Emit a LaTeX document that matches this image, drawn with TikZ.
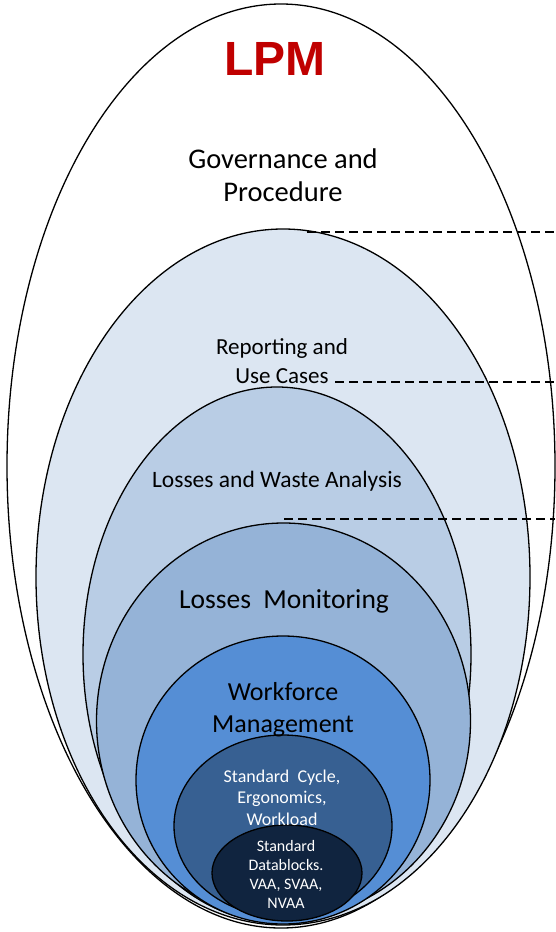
\documentclass[tikz,border=0pt]{standalone}
\usepackage{fontspec}
\setmainfont{Carlito}
\newfontfamily\lpmfont{Liberation Sans}
\usetikzlibrary{shapes.geometric}
\definecolor{lvA}{HTML}{FFFFFF}
\definecolor{lvB}{HTML}{DCE6F2}
\definecolor{lvC}{HTML}{B9CDE5}
\definecolor{lvD}{HTML}{95B3D7}
\definecolor{lvE}{HTML}{558ED5}
\definecolor{lvF}{HTML}{376092}
\definecolor{lvG}{HTML}{10243F}
\definecolor{lpmred}{HTML}{C00000}
\tikzset{
  layer/.style={ellipse, draw=black, line width=1.3pt, inner sep=0pt},
  lbl/.style={align=center, inner sep=0pt},
  guide/.style={draw=black, dashed, dash pattern=on 9pt off 5pt, line width=1.6pt}
}
\begin{document}
\begin{tikzpicture}[x=1pt,y=-1pt]
\useasboundingbox[fill=white] (0,0) rectangle (555,932);
% nested layers
\node[layer, fill=lvA, minimum width=548pt, minimum height=924pt] (l1) at (281,466) {};
\node[layer, fill=lvB, minimum width=494pt, minimum height=696pt] (l2) at (283,577) {};
\node[layer, fill=lvC, minimum width=388pt, minimum height=535pt] (l3) at (277,654.5) {};
\node[layer, fill=lvD, minimum width=374pt, minimum height=396pt] (l4) at (283.5,721) {};
\node[layer, fill=lvE, minimum width=294pt, minimum height=288pt] (l5) at (283,780) {};
\node[layer, fill=lvF, minimum width=218pt, minimum height=182pt] (l6) at (283,826) {};
\node[layer, fill=lvG, minimum width=150pt, minimum height=96pt] (l7) at (287,873) {};
% labels
\node[lbl, text=lpmred, font=\lpmfont\bfseries\fontsize{48}{54}\selectfont] (tlpm) at (275,59) {LPM};
\node[lbl, font=\fontsize{28.5}{33}\selectfont] (tgov) at (283,175.5) {Governance and\\Procedure};
\node[lbl, font=\fontsize{23}{29}\selectfont] (trep) at (282,361.5) {Reporting and\\Use Cases};
\node[lbl, font=\fontsize{23.5}{28}\selectfont] (tlwa) at (277,481) {Losses and Waste Analysis};
\node[lbl, font=\fontsize{27.5}{32}\selectfont] (tlmo) at (284,601) {Losses\ \ Monitoring};
\node[lbl, font=\fontsize{26}{32}\selectfont] (twfm) at (283,709.5) {Workforce\\Management};
\node[lbl, text=white, font=\fontsize{18}{21.5}\selectfont] (tscy) at (282,797.5) {Standard\ \ Cycle,\\Ergonomics,\\Workload};
\node[lbl, text=white, font=\fontsize{16}{19}\selectfont] (tsdb) at (286,874.5) {Standard\\Datablocks.\\VAA, SVAA,\\NVAA};
% dashed guide lines
\coordinate (d1a) at (307,232);
\coordinate (d1b) at (555,232);
\coordinate (d2a) at (335,382);
\coordinate (d2b) at (555,382);
\coordinate (d3a) at (284,519);
\coordinate (d3b) at (555,519);
\draw[guide] (d1a) -- (d1b);
\draw[guide] (d2a) -- (d2b);
\draw[guide] (d3a) -- (d3b);
\end{tikzpicture}
\end{document}
